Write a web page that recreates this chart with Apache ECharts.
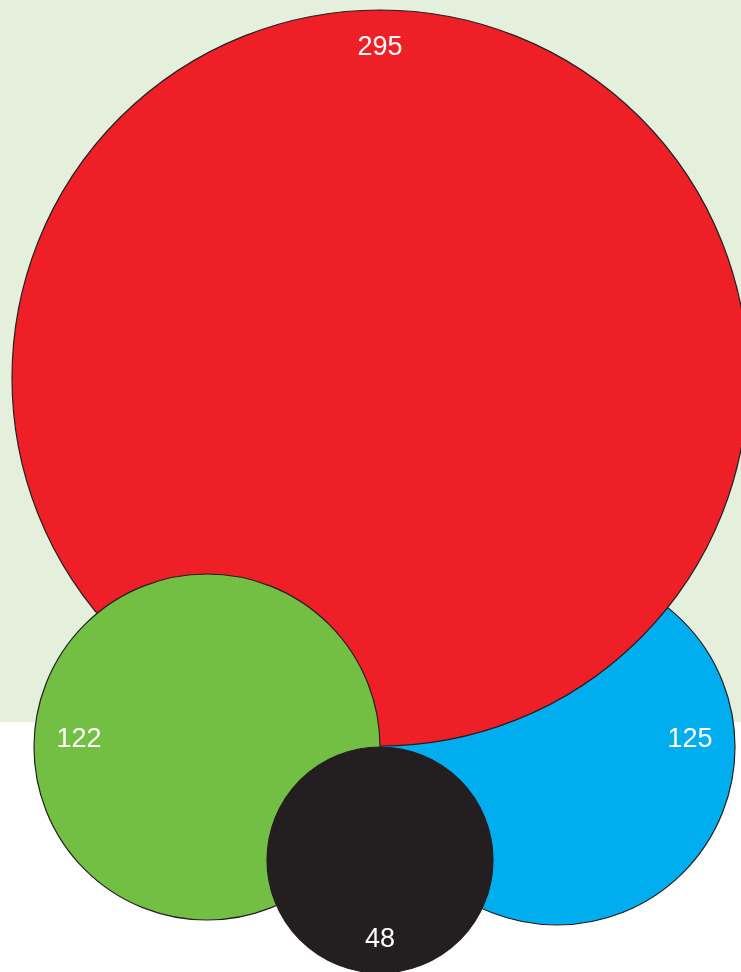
<!DOCTYPE html>
<html>
<head>
<meta charset="utf-8">
<script src="https://cdn.jsdelivr.net/npm/echarts@6/dist/echarts.min.js"></script>
<style>
html,body{margin:0;padding:0;background:#ffffff;}
#chart{width:741px;height:972px;}
</style>
</head>
<body>
<div id="chart"></div>
<script>
// Data
var names = ['Blue', 'Red', 'Green', 'Black'];
var values = [125, 295, 122, 48];

// Layout (pixel-space placement of each bubble)
var centerX = [557, 380, 207, 380];
var centerY = [747, 378, 747, 860];
var radius = [178, 368, 173, 113];
var labelOffsets = [[133, -7], [0, -330], [-128, -7], [0, 80]];
var colors = ['#00aeef', '#ee1f26', '#72bf44', '#231f20'];

var chart = echarts.init(document.getElementById('chart'), null, {renderer: 'canvas'});

var series = names.map(function (n, i) {
  return {
    type: 'scatter',
    name: n,
    z: 2 + i,
    clip: false,
    silent: true,
    symbol: 'circle',
    symbolSize: radius[i] * 2,
    data: [{ name: n, value: [centerX[i], centerY[i], values[i]] }],
    itemStyle: { color: colors[i], borderColor: '#231f20', borderWidth: 1.2, opacity: 1 },
    label: {
      show: true,
      position: 'inside',
      offset: labelOffsets[i],
      formatter: function (p) { return String(p.value[2]); },
      color: '#ffffff',
      fontFamily: 'Liberation Sans, Arial, sans-serif',
      fontSize: 27
    },
    emphasis: { disabled: true }
  };
});

chart.setOption({
  animation: false,
  backgroundColor: '#ffffff',
  graphic: [{
    type: 'rect',
    z: -10,
    silent: true,
    shape: { x: 0, y: 0, width: 741, height: 722 },
    style: { fill: '#e4f0dc' }
  }],
  grid: { left: 0, right: 0, top: 0, bottom: 0 },
  xAxis: { type: 'value', min: 0, max: 741, show: false },
  yAxis: { type: 'value', min: 0, max: 972, inverse: true, show: false },
  series: series
});
</script>
</body>
</html>
